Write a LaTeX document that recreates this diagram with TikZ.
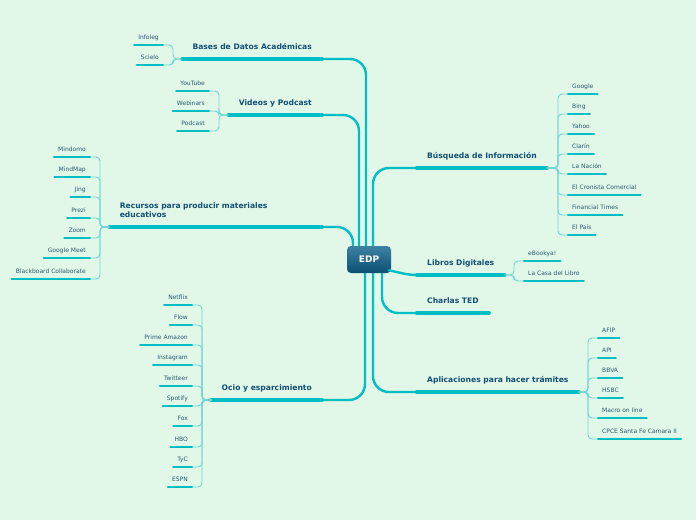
\documentclass[tikz,border=0pt]{standalone}
\usepackage{fontspec}
\setmainfont{DejaVu Sans}
\usepackage{xcolor}
\usetikzlibrary{positioning,calc}

\definecolor{mintbg}{RGB}{225,247,232}
\definecolor{mmteal}{RGB}{0,190,196}
\definecolor{brackc}{RGB}{110,214,214}
\definecolor{topictext}{RGB}{17,79,115}
\definecolor{kidtext}{RGB}{42,88,114}
\definecolor{edptop}{RGB}{62,130,163}
\definecolor{edpbot}{RGB}{10,80,115}

\begin{document}
\begin{tikzpicture}[
  x=1pt, y=-1pt,
  edpbox/.style={rectangle, rounded corners=4pt, top color=edptop, bottom color=edpbot,
    minimum width=44pt, minimum height=27pt, text=white, font=\fontsize{9}{10}\selectfont\bfseries},
  topic/.style={font=\fontsize{7.6}{9}\selectfont\bfseries, text=topictext, inner xsep=10pt,
    inner ysep=9pt, text height=5pt, text depth=0pt,
    append after command={(\tikzlastnode.south west) edge[topicline] (\tikzlastnode.south east)}},
  topicl/.style={topic, anchor=south east},
  topicr/.style={topic, anchor=south west},
  topicline/.style={draw=mmteal, line width=4.2pt, line cap=round},
  kid/.style={font=\fontsize{6}{7}\selectfont, text=kidtext, inner xsep=4pt,
    inner ysep=5pt, text height=4.4pt, text depth=0pt,
    append after command={(\tikzlastnode.south west) edge[kidline] (\tikzlastnode.south east)}},
  kidl/.style={kid, anchor=south east},
  kidr/.style={kid, anchor=south west},
  kidline/.style={draw=mmteal, line width=2.2pt, line cap=round},
  trunk/.style={draw=mmteal, line width=2.4pt, rounded corners=16pt},
  bracket/.style={draw=brackc, line width=0.9pt, rounded corners=4pt}
]
\fill[mintbg] (0,0) rectangle (696,520);
\useasboundingbox (0,0) rectangle (696,520);

% Centre
\node[edpbox] (edp) at (369,259.5) {EDP};

% Topics, left side
\node[topicl] (bd) at (322,59) {Bases de Datos Académicas};
\node[topicl] (vp) at (322,115) {Videos y Podcast};
\node[topicl, text width=192pt, align=left, text depth=9pt] (rp) at (322,227) {Recursos para producir materiales\\educativos};
\node[topicl] (oc) at (322,400) {Ocio y esparcimiento};

% Topics, right side
\node[topicr] (bq) at (417,168) {Búsqueda de Información};
\node[topicr] (lb) at (417,275) {Libros Digitales};
\node[topicr] (ct) at (417,313) {Charlas TED};
\node[topicr] (ap) at (417,392) {Aplicaciones para hacer trámites};

% Trunks to the centre
\draw[trunk] (bd.south east) -| ([xshift=-3pt]edp.north);
\draw[trunk] (vp.south east) -| ([xshift=-10pt]edp.north);
\draw[trunk] (rp.south east) -| ([xshift=-16pt]edp.north);
\draw[trunk] (oc.south east) -| ([xshift=-4pt]edp.south);
\draw[trunk] (bq.south west) -| ([xshift=4pt]edp.north);
\draw[trunk] (lb.south west) to[out=180, in=-10] ([xshift=-3pt, yshift=3pt]edp.south east);
\draw[trunk] (ct.south west) -| ([xshift=13pt]edp.south);
\draw[trunk] (ap.south west) -| ([xshift=4pt]edp.south);

% Bases de Datos
\node[kidl] (il) at (163,45) {Infoleg};
\node[kidl] (sc) at (163,65) {Scielo};
\draw[bracket] (bd.south west) -| ([xshift=10pt]il.south east) -- (il.south east);
\draw[bracket] (bd.south west) -| ([xshift=10pt]sc.south east) -- (sc.south east);

% Videos
\node[kidl] (yt) at (209,91) {YouTube};
\node[kidl] (wb) at (209,111) {Webinars};
\node[kidl] (pc) at (209,131) {Podcast};
\draw[bracket] (vp.south west) -| ([xshift=10pt]yt.south east) -- (yt.south east);
\draw[bracket] (vp.south west) -| ([xshift=10pt]wb.south east) -- (wb.south east);
\draw[bracket] (vp.south west) -| ([xshift=10pt]pc.south east) -- (pc.south east);

% Recursos
\node[kidl] (md) at (90,157) {Mindomo};
\node[kidl] (mm) at (90,177) {MindMap};
\node[kidl] (jg) at (90,197) {Jing};
\node[kidl] (pz) at (90,218) {Prezi};
\node[kidl] (zm) at (90,238) {Zoom};
\node[kidl] (gm) at (90,258) {Google Meet};
\node[kidl] (bb) at (90,279) {Blackboard Collaborate};
\draw[bracket] (rp.south west) -| ([xshift=10pt]md.south east) -- (md.south east);
\draw[bracket] (rp.south west) -| ([xshift=10pt]mm.south east) -- (mm.south east);
\draw[bracket] (rp.south west) -| ([xshift=10pt]jg.south east) -- (jg.south east);
\draw[bracket] (rp.south west) -| ([xshift=10pt]pz.south east) -- (pz.south east);
\draw[bracket] (rp.south west) -| ([xshift=10pt]zm.south east) -- (zm.south east);
\draw[bracket] (rp.south west) -| ([xshift=10pt]gm.south east) -- (gm.south east);
\draw[bracket] (rp.south west) -| ([xshift=10pt]bb.south east) -- (bb.south east);

% Ocio
\node[kidl] (nf) at (192,305) {Netflix};
\node[kidl] (fl) at (192,325) {Flow};
\node[kidl] (pa) at (192,345) {Prime Amazon};
\node[kidl] (ig) at (192,365) {Instagram};
\node[kidl] (tw) at (192,386) {Twitteer};
\node[kidl] (sp) at (192,406) {Spotify};
\node[kidl] (fx) at (192,426) {Fox};
\node[kidl] (hb) at (192,447) {HBO};
\node[kidl] (tc) at (192,467) {TyC};
\node[kidl] (es) at (192,487) {ESPN};
\draw[bracket] (oc.south west) -| ([xshift=10pt]nf.south east) -- (nf.south east);
\draw[bracket] (oc.south west) -| ([xshift=10pt]fl.south east) -- (fl.south east);
\draw[bracket] (oc.south west) -| ([xshift=10pt]pa.south east) -- (pa.south east);
\draw[bracket] (oc.south west) -| ([xshift=10pt]ig.south east) -- (ig.south east);
\draw[bracket] (oc.south west) -| ([xshift=10pt]tw.south east) -- (tw.south east);
\draw[bracket] (oc.south west) -| ([xshift=10pt]sp.south east) -- (sp.south east);
\draw[bracket] (oc.south west) -| ([xshift=10pt]fx.south east) -- (fx.south east);
\draw[bracket] (oc.south west) -| ([xshift=10pt]hb.south east) -- (hb.south east);
\draw[bracket] (oc.south west) -| ([xshift=10pt]tc.south east) -- (tc.south east);
\draw[bracket] (oc.south west) -| ([xshift=10pt]es.south east) -- (es.south east);

% Busqueda
\node[kidr] (go) at (568,94) {Google};
\node[kidr] (bi) at (568,114) {Bing};
\node[kidr] (ya) at (568,134) {Yahoo};
\node[kidr] (cl) at (568,154) {Clarín};
\node[kidr] (ln) at (568,174) {La Nación};
\node[kidr] (ec) at (568,195) {El Cronista Comercial};
\node[kidr] (ft) at (568,215) {Financial Times};
\node[kidr] (ep) at (568,235) {El País};
\draw[bracket] (bq.south east) -| ([xshift=-10pt]go.south west) -- (go.south west);
\draw[bracket] (bq.south east) -| ([xshift=-10pt]bi.south west) -- (bi.south west);
\draw[bracket] (bq.south east) -| ([xshift=-10pt]ya.south west) -- (ya.south west);
\draw[bracket] (bq.south east) -| ([xshift=-10pt]cl.south west) -- (cl.south west);
\draw[bracket] (bq.south east) -| ([xshift=-10pt]ln.south west) -- (ln.south west);
\draw[bracket] (bq.south east) -| ([xshift=-10pt]ec.south west) -- (ec.south west);
\draw[bracket] (bq.south east) -| ([xshift=-10pt]ft.south west) -- (ft.south west);
\draw[bracket] (bq.south east) -| ([xshift=-10pt]ep.south west) -- (ep.south west);

% Libros
\node[kidr] (eb) at (524,261) {eBookya!};
\node[kidr] (cs) at (524,281) {La Casa del Libro};
\draw[bracket] (lb.south east) -| ([xshift=-10pt]eb.south west) -- (eb.south west);
\draw[bracket] (lb.south east) -| ([xshift=-10pt]cs.south west) -- (cs.south west);

% Aplicaciones
\node[kidr] (af) at (598,338) {AFIP};
\node[kidr] (apl) at (598,358) {API};
\node[kidr] (bv) at (598,378) {BBVA};
\node[kidr] (hs) at (598,398) {HSBC};
\node[kidr] (mc) at (598,418) {Macro on line};
\node[kidr] (cp) at (598,439) {CPCE Santa Fe Camara II};
\draw[bracket] (ap.south east) -| ([xshift=-10pt]af.south west) -- (af.south west);
\draw[bracket] (ap.south east) -| ([xshift=-10pt]apl.south west) -- (apl.south west);
\draw[bracket] (ap.south east) -| ([xshift=-10pt]bv.south west) -- (bv.south west);
\draw[bracket] (ap.south east) -| ([xshift=-10pt]hs.south west) -- (hs.south west);
\draw[bracket] (ap.south east) -| ([xshift=-10pt]mc.south west) -- (mc.south west);
\draw[bracket] (ap.south east) -| ([xshift=-10pt]cp.south west) -- (cp.south west);
\end{tikzpicture}
\end{document}
